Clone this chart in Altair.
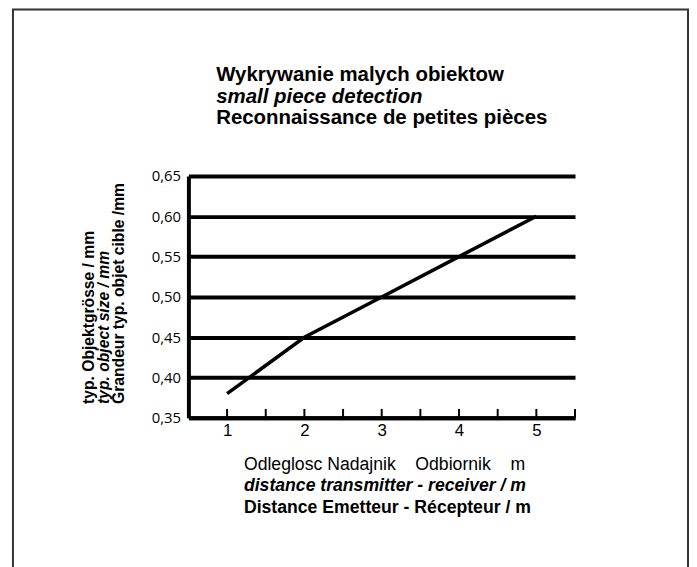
import altair as alt
import pandas as pd

# Data
distance_m = [1, 2, 3, 4, 5]
object_size_mm = [0.38, 0.45, 0.50, 0.55, 0.60]
y_ticks = [0.35, 0.40, 0.45, 0.50, 0.55, 0.60, 0.65]
x_labels = [1, 2, 3, 4, 5]
x_minor_ticks = [1, 1.5, 2, 2.5, 3, 3.5, 4, 4.5, 5, 5.5]

NB = "\u00a0"
title_lines = ["Wykrywanie malych obiektow", "small piece detection", "Reconnaissance de petites pièces"]
ytitle_lines = ["typ. Objektgrösse / mm", "typ. object size / mm", "Grandeur typ. objet cible /mm"]
xtitle_lines = ["Odleglosc Nadajnik" + NB * 4 + "Odbiornik" + NB * 4 + "m",
                "distance transmitter - receiver / m",
                "Distance Emetteur - Récepteur / m"]

W, H = 390, 244
FONT = "Liberation Sans"

df = pd.DataFrame({"d": distance_m, "s": object_size_mm})
tick_df = pd.DataFrame({"t": x_minor_ticks})

xscale = alt.Scale(domain=[0.5, 5.5], nice=False, zero=False)
yscale = alt.Scale(domain=[0.35, 0.65], nice=False, zero=False)

base = alt.Chart(df)

line = base.mark_line(color="black", strokeWidth=3.5).encode(
    x=alt.X("d:Q", scale=xscale, title=None,
            axis=alt.Axis(values=x_labels, ticks=False, grid=False, domainColor="black",
                          domainWidth=4, labelFont=FONT, labelFontSize=17, labelColor="black",
                          labelPadding=5, format="d")),
    y=alt.Y("s:Q", scale=yscale, title=None,
            axis=alt.Axis(values=y_ticks, ticks=False, grid=True, gridColor="black",
                          gridWidth=4, gridOpacity=1, domainColor="black", domainWidth=4,
                          labelFont="Open Sans", labelFontSize=15, labelColor="black",
                          labelPadding=8,
                          labelExpr="replace(format(datum.value, '.2f'), '.', ',')")),
)

ticks = alt.Chart(tick_df).mark_rule(color="black", strokeWidth=2).encode(
    x=alt.X("t:Q", scale=xscale),
    y=alt.value(H - 9),
    y2=alt.value(H),
)

one = alt.Data(values=[{}])


def txt(s, x, y, size, weight="normal", style="normal", angle=0):
    return alt.Chart(one).mark_text(
        text=s, font=FONT, fontSize=size, fontWeight=weight, fontStyle=style,
        align="left", baseline="alphabetic", angle=angle, color="black",
    ).encode(x=alt.value(x), y=alt.value(y))


texts = [
    txt(title_lines[0], 28, -96, 20.6, "bold"),
    txt(title_lines[1], 28, -74, 20.6, "bold", "italic"),
    txt(title_lines[2], 28, -52, 20.6, "bold"),
    txt(xtitle_lines[0], 56, 297, 17.8),
    txt(xtitle_lines[1], 56, 318, 17.8, "bold", "italic"),
    txt(xtitle_lines[2], 56, 340, 17.8, "bold"),
    txt(ytitle_lines[0], -95, 230, 15.8, "bold", "normal", 270),
    txt(ytitle_lines[1], -80, 230, 15.8, "bold", "italic", 270),
    txt(ytitle_lines[2], -65, 230, 15.8, "bold", "normal", 270),
]

frame = alt.Chart(one).mark_rect(fill=None, stroke="#333333", strokeWidth=2).encode(
    x=alt.value(-177), x2=alt.value(504), y=alt.value(-168), y2=alt.value(500),
)

chart = alt.layer(frame, line, ticks, *texts).properties(
    width=W, height=H,
    autosize=alt.AutoSizeParams(type="none"),
    padding={"left": 182, "top": 167, "right": 115, "bottom": 148},
).configure_view(stroke=None)

chart.save("out.html", embed_options={"renderer": "svg", "actions": False})
